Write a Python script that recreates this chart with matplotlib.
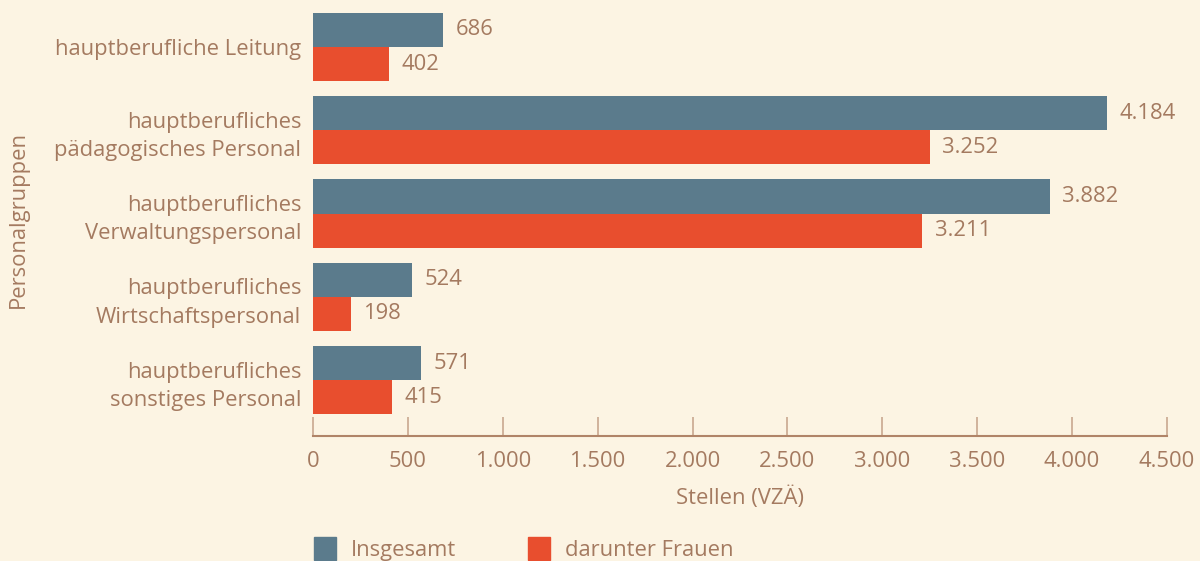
import matplotlib.pyplot as plt
import numpy as np
from matplotlib.patches import Patch
from matplotlib.ticker import FuncFormatter

# data
categories = ['hauptberufliche Leitung',
              'hauptberufliches\npädagogisches Personal',
              'hauptberufliches\nVerwaltungspersonal',
              'hauptberufliches\nWirtschaftspersonal',
              'hauptberufliches\nsonstiges Personal']
insgesamt = [686, 4184, 3882, 524, 571]
frauen = [402, 3252, 3211, 198, 415]
series_names = ['Insgesamt', 'darunter Frauen']
xticks = [0, 500, 1000, 1500, 2000, 2500, 3000, 3500, 4000, 4500]

bg = '#fcf4e3'
blue = '#5b7b8c'
red = '#e84e2e'
txt = '#a47a60'

plt.rcParams['font.family'] = ['Open Sans', 'DejaVu Sans']
plt.rcParams['font.size'] = 15.8

def de(v):
    return f'{v:,.0f}'.replace(',', '.')

fig = plt.figure(figsize=(12, 5.61), dpi=100, facecolor=bg)
ax = fig.add_axes([0.2608, 0.2228, 0.7117, 0.7772])
ax.set_facecolor(bg)

y = np.arange(len(categories))
h = 0.41
b1 = ax.barh(y - h / 2, insgesamt, height=h, color=blue)
b2 = ax.barh(y + h / 2, frauen, height=h, color=red)
for bars, vals in ((b1, insgesamt), (b2, frauen)):
    for r, v in zip(bars, vals):
        ax.text(r.get_width() + 65, r.get_y() + r.get_height() / 2, de(v),
                va='center', ha='left', color=txt)

ax.set_ylim(4.67, -0.565)
ax.set_xlim(0, 4500)
ax.set_yticks(y)
ax.set_yticklabels(categories, color=txt, linespacing=1.45)
ax.tick_params(axis='y', length=0, pad=8.5)
ax.set_xticks(xticks)
ax.xaxis.set_major_formatter(FuncFormatter(lambda v, p: de(v)))
ax.tick_params(axis='x', direction='in', length=14, width=1.2, color='#c9a88f',
               labelcolor=txt, pad=11)
for s in ('top', 'right', 'left'):
    ax.spines[s].set_visible(False)
ax.spines['bottom'].set_color('#b08468')
ax.spines['bottom'].set_linewidth(1.5)

ax.set_xlabel('Stellen (VZÄ)', color=txt, labelpad=10)
fig.text(0.015, 0.608, 'Personalgruppen', rotation=90, color=txt,
         ha='center', va='center')

handles = [Patch(color=blue), Patch(color=red)]
fig.legend(handles, series_names, loc='lower left', bbox_to_anchor=(0.245, -0.035),
           ncol=2, frameon=False, handlelength=1.0, handleheight=1.3,
           columnspacing=3.25, handletextpad=0.7, labelcolor=txt)

fig.savefig('out.png', dpi=100, facecolor=bg)
